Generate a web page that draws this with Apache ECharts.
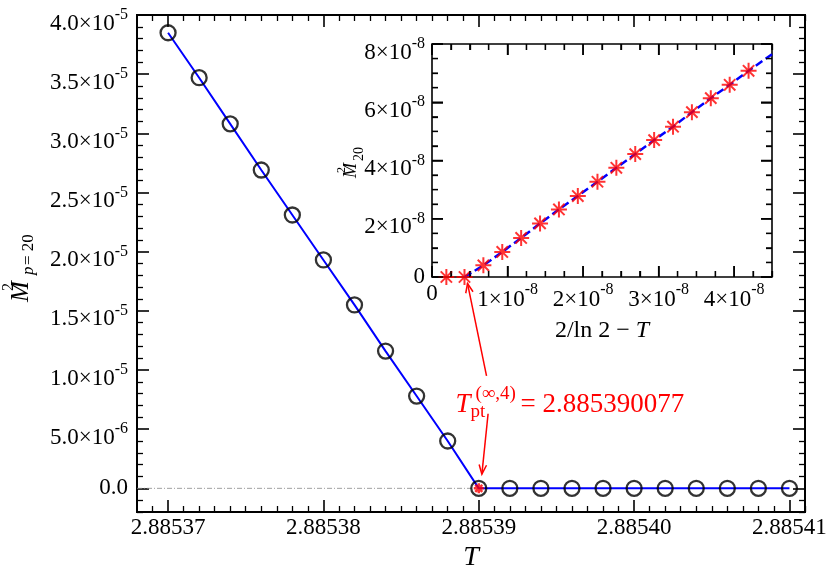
<!DOCTYPE html>
<html><head><meta charset="utf-8">
<script src="https://cdn.jsdelivr.net/npm/echarts@6/dist/echarts.min.js"></script>
<style>html,body{margin:0;padding:0;background:#fff}#c{width:830px;height:566px}</style>
</head><body><div id="c"></div>
<script>
const FONT = 'Liberation Serif';

// ---- main panel data ----
const mainT = [2.88537, 2.885372, 2.885374, 2.885376, 2.885378, 2.88538, 2.885382, 2.885384, 2.885386, 2.885388,
               2.88539, 2.885392, 2.885394, 2.885396, 2.885398, 2.8854, 2.885402, 2.885404, 2.885406, 2.885408, 2.88541];
const mainM2 = [3.85e-5, 3.47e-5, 3.08e-5, 2.69e-5, 2.31e-5, 1.93e-5, 1.55e-5, 1.16e-5, 7.8e-6, 4.0e-6,
                0, 0, 0, 0, 0, 0, 0, 0, 0, 0, 0];
const criticalT = [2.88539];
const criticalM2 = [0];
const zeroLineT = [2.885368, 2.88539];
const zeroLineM2 = [0, 0];

// ---- inset data (2/ln2 - T, M_20^2) ----
const insetX = [0.19e-8, 0.43e-8, 0.68e-8, 0.93e-8, 1.18e-8, 1.43e-8, 1.68e-8, 1.93e-8, 2.19e-8,
                2.44e-8, 2.69e-8, 2.94e-8, 3.19e-8, 3.44e-8, 3.69e-8, 3.94e-8, 4.19e-8];
const insetY = [0, 0, 0.40e-8, 0.86e-8, 1.34e-8, 1.84e-8, 2.32e-8, 2.78e-8, 3.27e-8,
                3.75e-8, 4.22e-8, 4.70e-8, 5.16e-8, 5.66e-8, 6.14e-8, 6.60e-8, 7.08e-8];
const fitX = [0.43e-8, 0.68e-8, 0.93e-8, 1.18e-8, 1.43e-8, 1.68e-8, 1.93e-8, 2.19e-8, 2.44e-8,
              2.69e-8, 2.94e-8, 3.19e-8, 3.44e-8, 3.69e-8, 3.94e-8, 4.19e-8, 4.5e-8];
const fitY = [0, 0.40e-8, 0.86e-8, 1.34e-8, 1.84e-8, 2.32e-8, 2.78e-8, 3.27e-8, 3.75e-8,
              4.22e-8, 4.70e-8, 5.16e-8, 5.66e-8, 6.14e-8, 6.60e-8, 7.08e-8, 7.65e-8];

// ---- axes ----
const mainXRange = [2.885368, 2.885411];
const mainYRange = [-2e-6, 4e-5];
const insetXRange = [0, 4.5e-8];
const insetYRange = [0, 8e-8];
const mainXTicks = [2.88537, 2.88538, 2.88539, 2.8854, 2.88541];
const mainXLabels = ['2.88537', '2.88538', '2.88539', '2.88540', '2.88541'];
const mainYTicks = [0, 5e-6, 1e-5, 1.5e-5, 2e-5, 2.5e-5, 3e-5, 3.5e-5, 4e-5];
const mainYLabels = ['0.0', '5.0×10^-6', '1.0×10^-5', '1.5×10^-5', '2.0×10^-5', '2.5×10^-5', '3.0×10^-5', '3.5×10^-5', '4.0×10^-5'];
const insetXTicks = [0, 1e-8, 2e-8, 3e-8, 4e-8];
const insetXLabels = ['0', '1×10^-8', '2×10^-8', '3×10^-8', '4×10^-8'];
const insetYTicks = [0, 2e-8, 4e-8, 6e-8, 8e-8];
const insetYLabels = ['0', '2×10^-8', '4×10^-8', '6×10^-8', '8×10^-8'];
const mainXMinorStep = 1e-6, mainYMinorStep = 1e-6, insetXMinorStep = 0.25e-8, insetYMinorStep = 0.5e-8;

// ---- annotation ----
const annotAnchor = [2.8853885, 7.35e-6];
const arrowUpFrom = [2.8853905, 9.5e-6];      // main coords
const arrowUpTo = [0.47e-8, -0.22e-8];        // inset coords
const arrowDownFrom = [2.8853906, 6.3e-6];    // main coords
const arrowDownTo = [2.8853902, 1.2e-6];      // main coords

function minorValues(range, step, majors) {
  const out = [];
  const i0 = Math.ceil(range[0] / step - 1e-6), i1 = Math.floor(range[1] / step + 1e-6);
  for (let i = i0; i <= i1; i++) {
    const v = i * step;
    if (!majors.some(m => Math.abs(m - v) < step * 1e-3)) out.push(v);
  }
  return out;
}
function lookup(ticks, labels, v) {
  let best = 0;
  for (let i = 1; i < ticks.length; i++) if (Math.abs(ticks[i] - v) < Math.abs(ticks[best] - v)) best = i;
  const s = labels[best];
  if (s.indexOf('^') < 0) return '{p|' + s + '}';
  const parts = s.split('^');
  return '{m|' + parts[0] + '}{s|' + parts[1] + '}';
}
const richY = {
  p: {fontFamily: FONT, fontSize: 23, color: '#000', lineHeight: 23},
  m: {fontFamily: FONT, fontSize: 23, color: '#000', lineHeight: 23, verticalAlign: 'bottom'},
  s: {fontFamily: FONT, fontSize: 16, color: '#000', lineHeight: 40, verticalAlign: 'middle'}
};
const richX = {
  p: {fontFamily: FONT, fontSize: 23, color: '#000', lineHeight: 23},
  m: {fontFamily: FONT, fontSize: 23, color: '#000', lineHeight: 23, verticalAlign: 'bottom'},
  s: {fontFamily: FONT, fontSize: 16, color: '#000', lineHeight: 29, verticalAlign: 'top'}
};

function mkAxis(gridIndex, position, range, values, tickLen, tickWidth, label, extra) {
  const a = {
    type: 'value', gridIndex: gridIndex, position: position, min: range[0], max: range[1],
    axisLine: {show: false, onZero: false}, splitLine: {show: false}, minorTick: {show: false},
    axisTick: {show: true, inside: true, length: tickLen, customValues: values, lineStyle: {color: '#000', width: tickWidth}},
    axisLabel: label ? Object.assign({show: true, customValues: values}, label) : {show: false}
  };
  return Object.assign(a, extra || {});
}

const mainGrid = {left: 137, right: 25, top: 15, bottom: 54, outerBoundsMode: 'none', containLabel: false};
const insetGrid = {left: 432, right: 58, top: 44, bottom: 289, outerBoundsMode: 'none', containLabel: false};

const mainXMinor = minorValues(mainXRange, mainXMinorStep, mainXTicks);
const mainYMinor = minorValues(mainYRange, mainYMinorStep, mainYTicks);
const insetXMinor = minorValues(insetXRange, insetXMinorStep, insetXTicks);
const insetYMinor = minorValues(insetYRange, insetYMinorStep, insetYTicks);

const mainXLabelCfg = {margin: 4, formatter: v => lookup(mainXTicks, mainXLabels, v), rich: richX};
const mainYLabelCfg = {margin: 9, formatter: v => lookup(mainYTicks, mainYLabels, v), rich: richY};
const insetXLabelCfg = {margin: 5, formatter: v => lookup(insetXTicks, insetXLabels, v), rich: richX};
const insetYLabelCfg = {margin: 7, formatter: v => lookup(insetYTicks, insetYLabels, v), rich: richY};

const asterisk = 'path://M10,0L10,20M0,10L20,10M2.93,2.93L17.07,17.07M2.93,17.07L17.07,2.93';
const Z_INSET = {z: 5};

const chart = echarts.init(document.getElementById('c'), null, {renderer: 'canvas'});
const option = {
  animation: false,
  backgroundColor: '#fff',
  grid: [
    Object.assign({show: true, borderColor: '#000', borderWidth: 2, backgroundColor: 'rgba(0,0,0,0)'}, mainGrid),
    Object.assign({show: false}, mainGrid),
    Object.assign({show: true, borderColor: '#000', borderWidth: 1.6, backgroundColor: 'rgba(0,0,0,0)'}, insetGrid),
    Object.assign({show: false}, insetGrid)
  ],
  xAxis: [
    mkAxis(0, 'bottom', mainXRange, mainXTicks, 12, 1.6, mainXLabelCfg,
      {name: 'T', nameLocation: 'middle', nameGap: 28, nameTextStyle: {fontFamily: FONT, fontStyle: 'italic', fontSize: 28, color: '#000'}}),
    mkAxis(0, 'top', mainXRange, mainXTicks, 12, 1.6, null),
    mkAxis(1, 'bottom', mainXRange, mainXMinor, 6, 1.3, null),
    mkAxis(1, 'top', mainXRange, mainXMinor, 6, 1.3, null),
    mkAxis(2, 'bottom', insetXRange, insetXTicks, 11, 1.5, insetXLabelCfg,
      {z: 5, name: '{n|2/ln 2 − }{i|T}', nameLocation: 'middle', nameGap: 42,
       nameTextStyle: {rich: {n: {fontFamily: FONT, fontSize: 24, color: '#000'}, i: {fontFamily: FONT, fontSize: 24, fontStyle: 'italic', color: '#000'}}}}),
    mkAxis(2, 'top', insetXRange, insetXTicks, 11, 1.5, null, Z_INSET),
    mkAxis(3, 'bottom', insetXRange, insetXMinor, 6, 1.3, null, Z_INSET),
    mkAxis(3, 'top', insetXRange, insetXMinor, 6, 1.3, null, Z_INSET)
  ],
  yAxis: [
    mkAxis(0, 'left', mainYRange, mainYTicks, 12, 1.6, mainYLabelCfg),
    mkAxis(0, 'right', mainYRange, mainYTicks, 12, 1.6, null),
    mkAxis(1, 'left', mainYRange, mainYMinor, 6, 1.3, null),
    mkAxis(1, 'right', mainYRange, mainYMinor, 6, 1.3, null),
    mkAxis(2, 'left', insetYRange, insetYTicks, 11, 1.5, insetYLabelCfg, Z_INSET),
    mkAxis(2, 'right', insetYRange, insetYTicks, 11, 1.5, null, Z_INSET),
    mkAxis(3, 'left', insetYRange, insetYMinor, 6, 1.3, null, Z_INSET),
    mkAxis(3, 'right', insetYRange, insetYMinor, 6, 1.3, null, Z_INSET)
  ],
  series: [
    {type: 'line', xAxisIndex: 0, yAxisIndex: 0, data: zeroLineT.map((t, i) => [t, zeroLineM2[i]]),
     symbol: 'none', lineStyle: {color: '#888', width: 0.8, type: [5, 2, 1, 2]}, z: 1},
    {type: 'line', xAxisIndex: 0, yAxisIndex: 0, data: mainT.map((t, i) => [t, mainM2[i]]),
     symbol: 'none', lineStyle: {color: '#0000ff', width: 2}, z: 2},
    {type: 'scatter', xAxisIndex: 0, yAxisIndex: 0, data: mainT.map((t, i) => [t, mainM2[i]]),
     symbol: 'circle', symbolSize: 15, itemStyle: {color: 'rgba(0,0,0,0)', borderColor: '#000', borderWidth: 2.3}, z: 3},
    {type: 'scatter', xAxisIndex: 0, yAxisIndex: 0, data: criticalT.map((t, i) => [t, criticalM2[i]]),
     symbol: asterisk, symbolSize: 10, itemStyle: {color: '#ff0000', borderColor: '#ff0000', borderWidth: 2.5}, z: 4},
    {type: 'line', xAxisIndex: 4, yAxisIndex: 4, data: fitX.map((x, i) => [x, fitY[i]]),
     symbol: 'none', lineStyle: {color: '#0000ff', width: 2.5, type: [8, 4]}, z: 6},
    {type: 'scatter', xAxisIndex: 4, yAxisIndex: 4, data: insetX.map((x, i) => [x, insetY[i]]),
     symbol: asterisk, symbolSize: 16, itemStyle: {color: '#ff0000', borderColor: '#ff0000', borderWidth: 2}, z: 7}
  ]
};
chart.setOption(option);

// ---- annotation, inset tick marks & rotated axis titles ----
function px(seriesIndex, p) { return chart.convertToPixel({seriesIndex: seriesIndex}, p); }
function arrow(a, b) {
  const dx = b[0] - a[0], dy = b[1] - a[1], L = Math.hypot(dx, dy);
  const ux = dx / L, uy = dy / L, hl = 10, ang = 0.38;
  const c = Math.cos(ang), s = Math.sin(ang);
  const l1 = [b[0] - hl * (ux * c - uy * s), b[1] - hl * (uy * c + ux * s)];
  const l2 = [b[0] - hl * (ux * c + uy * s), b[1] - hl * (uy * c - ux * s)];
  return [
    {type: 'line', shape: {x1: a[0], y1: a[1], x2: b[0], y2: b[1]}, style: {stroke: '#ff0000', lineWidth: 1.5}, z: 100},
    {type: 'polyline', shape: {points: [l1, b, l2]}, style: {stroke: '#ff0000', lineWidth: 1.5, fill: null}, z: 100}
  ];
}
function txt(x, y, text, font, color) {
  return {type: 'text', z: 100, style: {x: x, y: y, text: text, font: font, fill: color || '#000',
    align: 'left', verticalAlign: 'middle', textAlign: 'left', textVerticalAlign: 'middle'}};
}
function seg(x1, y1, x2, y2, w) {
  return {type: 'line', z: 90, shape: {x1: x1, y1: y1, x2: x2, y2: y2}, style: {stroke: '#000', lineWidth: w}};
}
// inset ticks on all four sides, placed through the inset's own scale
const insetTicks = [];
const lo = px(5, [insetXRange[0], insetYRange[0]]), hi = px(5, [insetXRange[1], insetYRange[1]]);
[[insetXTicks, 11, 1.5], [insetXMinor, 6, 1.3]].forEach(([vals, len, w]) => vals.forEach(v => {
  const x = px(5, [v, insetYRange[0]])[0];
  insetTicks.push(seg(x, lo[1], x, lo[1] - len, w), seg(x, hi[1], x, hi[1] + len, w));
}));
[[insetYTicks, 11, 1.5], [insetYMinor, 6, 1.3]].forEach(([vals, len, w]) => vals.forEach(v => {
  const y = px(5, [insetXRange[0], v])[1];
  insetTicks.push(seg(lo[0], y, lo[0] + len, y, w), seg(hi[0], y, hi[0] - len, y, w));
}));

const anc = px(1, annotAnchor);
const ser = "'Liberation Serif'";
const graphics = [].concat(
  insetTicks,
  arrow(px(1, arrowUpFrom), px(5, arrowUpTo)),
  arrow(px(1, arrowDownFrom), px(1, arrowDownTo)),
  [
    txt(anc[0], anc[1] + 4, 'T', 'italic 27px ' + ser, '#ff0000'),
    txt(anc[0] + 20, anc[1] - 7, '(∞,4)', '19px ' + ser, '#ff0000'),
    txt(anc[0] + 15, anc[1] + 11, 'pt', '19px ' + ser, '#ff0000'),
    txt(anc[0] + 65, anc[1] + 4, '= 2.885390077', '27px ' + ser, '#ff0000'),
    {type: 'group', x: 23, y: 302, rotation: Math.PI / 2, children: [
      txt(0, -2, 'M', 'italic 25px ' + ser),
      txt(11, -14, '2', '16px ' + ser),
      txt(27, 6, 'p', 'italic 17px ' + ser),
      txt(37, 6, '= 20', '17px ' + ser)
    ]},
    {type: 'group', x: 351, y: 178, rotation: Math.PI / 2, children: [
      txt(0, 0, 'M', 'italic 18px ' + ser),
      txt(5, -9.5, '2', '12px ' + ser),
      txt(17, 8, '20', '14px ' + ser)
    ]}
  ]
);
chart.setOption({graphic: graphics});
</script></body></html>
